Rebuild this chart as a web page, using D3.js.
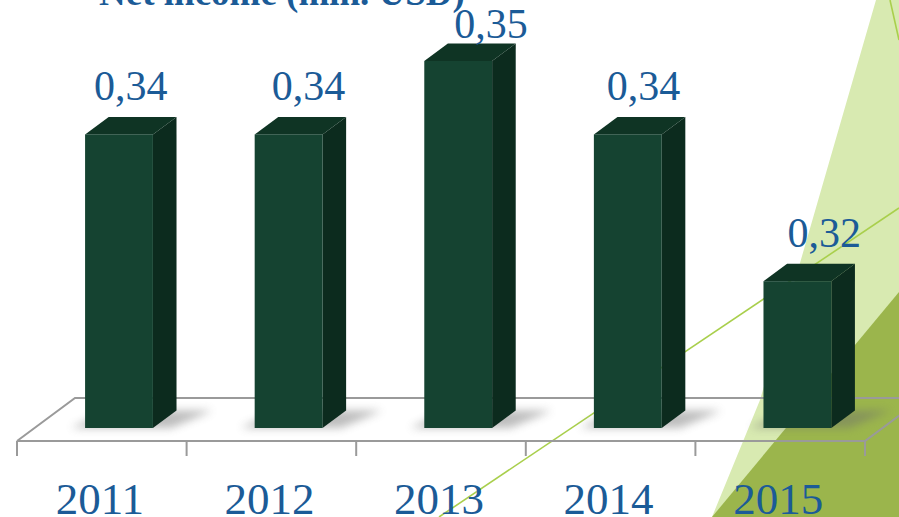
<!DOCTYPE html>
<html>
<head>
<meta charset="utf-8">
<script src="https://cdn.jsdelivr.net/npm/d3@7"></script>
<style>
  html, body { margin: 0; padding: 0; background: #ffffff; }
  svg { display: block; }
</style>
</head>
<body>
<svg id="chart" width="899" height="517"></svg>
<script>
// ---- data ----
const years = ["2011", "2012", "2013", "2014", "2015"];
const values = [0.34, 0.34, 0.35, 0.34, 0.32];
const valueLabels = ["0,34", "0,34", "0,35", "0,34", "0,32"];
const title = "Net income (mln. USD)";

// ---- layout ----
const W = 899, H = 517;
const svg = d3.select("#chart");
const blue = "#1b5b97";
const labelNudgeX = [0, 8, 21, 4, 15];   // hand-placed label offsets seen in the reference
const labelMinBaseline = 38;             // labels are kept inside the chart area

// decorative background
svg.append("rect").attr("width", W).attr("height", H).attr("fill", "#ffffff");
svg.append("polygon")
  .attr("points", [[876,0],[800,263],[760,400],[712,517],[899,517],[899,0]].map(p => p.join(",")).join(" "))
  .attr("fill", "#d8eab1");
svg.append("polygon")
  .attr("points", [[899,292],[712,517],[899,517]].map(p => p.join(",")).join(" "))
  .attr("fill", "#9bb54c");
svg.append("line").attr("x1", 439).attr("y1", 517).attr("x2", 899).attr("y2", 208)
  .attr("stroke", "#a9cf4c").attr("stroke-width", 1.6);
svg.append("line").attr("x1", 890).attr("y1", 0).attr("x2", 899).attr("y2", 40)
  .attr("stroke", "#a9cf4c").attr("stroke-width", 1.6);

// scales
const floorFrontY = 441, floorBackY = 398;
const depthX = 58;
const x = d3.scaleBand().domain(years).range([17, 865]).paddingInner(0.6).paddingOuter(0.3);
const step = x.step();
const bw = x.bandwidth();
const y = d3.scaleLinear().domain([0.30, 0.35]).range([428, 61]);
const bdx = 23.6, bdy = 17.4;               // bar depth
const offX = (depthX - bdx) / 2;            // bar sits in middle of floor depth

// floor
const gridColor = "#9a9a9a";
const floor = svg.append("g").attr("fill", "none").attr("stroke", gridColor).attr("stroke-width", 2);
const x0 = 17, x1 = 865;
floor.append("path").attr("d", `M${x0},${floorFrontY} L${x0 + depthX},${floorBackY} L${W},${floorBackY}`);
floor.append("path").attr("d", `M${x0},${floorFrontY} L${x1},${floorFrontY} L${x1 + depthX},${floorBackY}`);
const tickXs = d3.range(years.length + 1).map(i => x0 + i * step);
floor.selectAll("line.tick").data(tickXs).join("line")
  .attr("x1", d => d).attr("x2", d => d)
  .attr("y1", floorFrontY).attr("y2", 456);

// shadow filter
const defs = svg.append("defs");
defs.append("filter").attr("id", "blur").attr("x", "-50%").attr("y", "-50%").attr("width", "200%").attr("height", "200%")
  .append("feGaussianBlur").attr("stdDeviation", 4);

const bars = svg.append("g");
years.forEach((yr, i) => {
  const fx = x(yr) + offX;
  const fb = 428;
  const ft = y(values[i]);
  bars.append("polygon")
    .attr("points", [[fx - 14, fb], [fx + bw + 18, fb], [fx + bw + bdx + 36, fb - bdy], [fx + bdx, fb - bdy]].map(p => p.join(",")).join(" "))
    .attr("fill", "#6d6d6d").attr("opacity", 0.45).attr("filter", "url(#blur)");
  bars.append("polygon")
    .attr("points", [[fx + bw, ft], [fx + bw + bdx, ft - bdy], [fx + bw + bdx, fb - bdy], [fx + bw, fb]].map(p => p.join(",")).join(" "))
    .attr("fill", "#0c2b1e");
  bars.append("polygon")
    .attr("points", [[fx, ft], [fx + bdx, ft - bdy], [fx + bw + bdx, ft - bdy], [fx + bw, ft]].map(p => p.join(",")).join(" "))
    .attr("fill", "#0f3424");
  bars.append("rect")
    .attr("x", fx).attr("y", ft).attr("width", bw).attr("height", fb - ft)
    .attr("fill", "#154331");
  bars.append("text")
    .attr("x", fx + bw / 2 + bdx / 2 + labelNudgeX[i])
    .attr("y", Math.max(ft - 34, labelMinBaseline))
    .attr("text-anchor", "middle")
    .attr("font-family", "'Liberation Serif', 'Times New Roman', serif")
    .attr("font-size", 42).attr("fill", blue)
    .text(valueLabels[i]);
});

// category labels
svg.append("g").selectAll("text").data(years).join("text")
  .attr("x", d => x(d) + bw / 2 - 2)
  .attr("y", 514)
  .attr("text-anchor", "middle")
  .attr("font-family", "'Liberation Serif', 'Times New Roman', serif")
  .attr("font-size", 45).attr("fill", blue)
  .text(d => d);

// title (partially cut at top)
svg.append("text")
  .attr("x", 282).attr("y", 5)
  .attr("text-anchor", "middle")
  .attr("font-family", "'Liberation Serif', 'Times New Roman', serif")
  .attr("font-weight", "bold")
  .attr("font-size", 37).attr("fill", blue)
  .text(title);
</script>
</body>
</html>
